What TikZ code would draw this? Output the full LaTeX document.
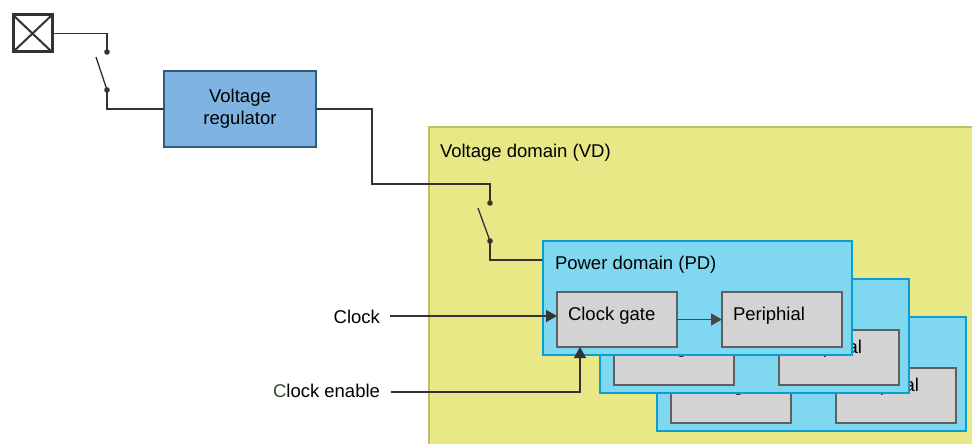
\documentclass[tikz,border=0pt]{standalone}
\usepackage{fontspec}
\setmainfont{Liberation Sans}
\usetikzlibrary{arrows.meta}
\definecolor{vdfill}{HTML}{E8E886}
\definecolor{vdline}{HTML}{BDBD6C}
\definecolor{regfill}{HTML}{7FB4E2}
\definecolor{regline}{HTML}{2D5E7E}
\definecolor{pdfill}{HTML}{80D8F0}
\definecolor{pdline}{HTML}{0A9FD0}
\definecolor{gbfill}{HTML}{D3D3D3}
\definecolor{gbline}{HTML}{5F5F5F}
\definecolor{wirec}{HTML}{333333}
\definecolor{cgreen}{HTML}{2D4B2D}
\begin{document}
\begin{tikzpicture}[x=1pt,y=-1pt,
  every node/.style={font=\fontsize{18.5}{22}\selectfont, inner sep=0pt, outer sep=0pt},
  wire/.style={draw=wirec, line width=1.3pt},
  dot/.style={fill=wirec},
  xbox/.style={draw=wirec, line width=3pt, minimum width=39pt, minimum height=37pt},
  regbox/.style={draw=regline, fill=regfill, line width=2.5pt, minimum width=152pt, minimum height=76pt, align=center},
  vdbox/.style={draw=vdline, fill=vdfill, line width=2pt, minimum width=561pt, minimum height=333pt},
  pdbox/.style={draw=pdline, fill=pdfill, line width=2.5pt, minimum width=309pt, minimum height=114pt},
  graybox/.style={draw=gbline, fill=gbfill, line width=2.5pt, minimum width=120pt, minimum height=55pt},
  arr/.style={wire, -{Triangle[length=11pt,width=12pt]}},
  ]
\useasboundingbox (0,0) rectangle (972,444);
\clip (0,0) rectangle (972,444);
% voltage domain
\node[vdbox] (vd) at (709.5,293.5) {};
\node[anchor=base west] (vdt) at (440,157) {Voltage domain (VD)};
% supply
\node[xbox] (xb) at (32.5,33.5) {};
\draw[wirec, line width=2pt] (xb.north west) -- (xb.south east) (xb.north east) -- (xb.south west);
\node[regbox] (reg) at (240,109) {Voltage\\regulator};
% switch 1
\coordinate (s1a) at (107,52);
\coordinate (s1b) at (107,90);
\coordinate (s1c) at (96,57);
\draw[wire] (xb.east) -| (s1a);
\draw[wire] (s1c) -- (s1b);
\draw[wire] (s1b) |- (reg.west);
\fill[dot] (s1a) circle (2.8);
\fill[dot] (s1b) circle (2.8);
% switch 2
\coordinate (r1) at (372,184);
\coordinate (s2a) at (490,203);
\coordinate (s2b) at (490,241);
\coordinate (s2c) at (478,208);
\coordinate (pdin) at (543,260);
\draw[wire] (reg.east) -| (r1) -| (s2a);
\draw[wire] (s2c) -- (s2b);
\draw[wire] (s2b) |- (pdin);
\fill[dot] (s2a) circle (2.8);
\fill[dot] (s2b) circle (2.8);
% power domains
\foreach \k in {2,1,0}{
  \pgfmathsetmacro{\ty}{ifthenelse(\k==0,0,-5)}
  \begin{scope}[shift={(57*\k,38*\k)}]
    \node[pdbox] (pd\k) at (697.5,298) {};
    \node[anchor=base west] (pdt\k) at (555,269) {Power domain (PD)};
    \node[graybox] (cg\k) at (617,319.5) {};
    \node[anchor=base west] (cgt\k) at (568,{320+\ty}) {Clock gate};
    \node[graybox] (per\k) at (782,319.5) {};
    \node[anchor=base west] (pert\k) at (733,{320+\ty}) {Periphial};
  \end{scope}
}
\draw[arr, draw=wirec!90] (cg0) -- (per0);
% clock inputs
\node[anchor=base east] (clkt) at (380,323) {Clock};
\node[anchor=base east] (cent) at (380,397) {\textcolor{cgreen}{C}lock enable};
\coordinate (clk) at (390,316);
\coordinate (cen) at (391,392);
\coordinate (cenin) at (580,347);
\draw[arr] (clk) -- (clk -| cg0.west);
\draw[arr] (cen) -| (cenin);
\end{tikzpicture}
\end{document}
